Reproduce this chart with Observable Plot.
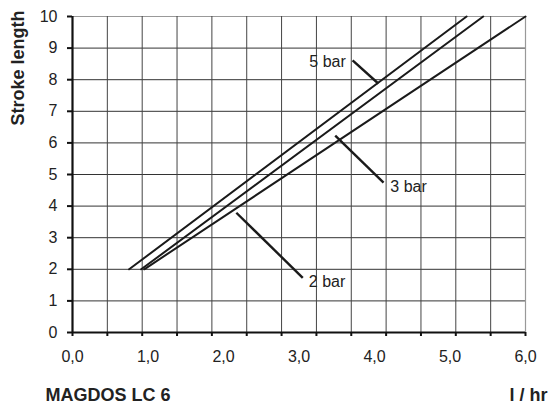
<!DOCTYPE html>
<html><head><meta charset="utf-8">
<script src="https://cdn.jsdelivr.net/npm/d3@7"></script>
<script src="https://cdn.jsdelivr.net/npm/@observablehq/plot@0.6"></script>
<style>
body{margin:0;background:#fff}
#chart{font-family:"Liberation Sans",Arial,Helvetica,sans-serif}
</style>
</head><body><div id="chart"></div>
<script>
// Series: stroke length vs flow (l/hr) for three back-pressures
const seriesNames = ["5 bar", "3 bar", "2 bar"];
const strokeLength = [2, 10];
const flow5bar = [0.75, 5.22];
const flow3bar = [0.91, 5.44];
const flow2bar = [0.95, 6.0];

// Axis ticks
const xTickLabels = [0, 1, 2, 3, 4, 5, 6];
const yTicks = [0, 1, 2, 3, 4, 5, 6, 7, 8, 9, 10];
const xGrid = [0, 0.4615, 0.9231, 1.3846, 1.8462, 2.3077, 2.7692, 3.2308, 3.6923, 4.1538, 4.6154, 5.0769, 5.5385, 6.0];

// Leader annotations (data coordinates)
const leaderFromX = [3.71, 3.48, 2.17];
const leaderFromY = [8.61, 6.23, 3.79];
const leaderToX = [4.05, 4.12, 3.05];
const leaderToY = [7.88, 4.74, 1.73];
const labelX = [3.62, 4.21, 3.13];
const labelY = [8.57, 4.62, 1.61];
const labelAnchor = ["end", "start", "start"];

const flows = [flow5bar, flow3bar, flow2bar];
const lineData = seriesNames.flatMap((name, i) =>
  strokeLength.map((s, j) => ({series: name, flow: flows[i][j], stroke: s})));
const leaders = seriesNames.map((name, i) => ({
  series: name, x1: leaderFromX[i], y1: leaderFromY[i], x2: leaderToX[i], y2: leaderToY[i],
  lx: labelX[i], ly: labelY[i], anchor: labelAnchor[i]
}));

const innerGridY = yTicks.filter(d => d !== 10);
const topGridY = yTicks.filter(d => d === 10);
const innerGridX = xGrid.filter(d => d !== 0 && d !== 6);
const rightGridX = xGrid.filter(d => d === 6);

const chart = Plot.plot({
  width: 550,
  height: 408,
  marginLeft: 72,
  marginRight: 25,
  marginTop: 16,
  marginBottom: 76,
  style: {fontFamily: '"Liberation Sans", Arial, sans-serif', fontSize: "16px", color: "#222", background: "#fff", overflow: "visible"},
  x: {domain: [0, 6], axis: null},
  y: {domain: [0, 10], axis: null},
  marks: [
    Plot.ruleY(innerGridY, {stroke: "#333", strokeWidth: 1}),
    Plot.ruleY(topGridY, {stroke: "#999", strokeWidth: 1.2}),
    Plot.ruleX(innerGridX, {stroke: "#444", strokeWidth: 1}),
    Plot.ruleX(rightGridX, {stroke: "#999", strokeWidth: 1.2}),
    Plot.axisY({ticks: yTicks, tickSize: 5, tickPadding: 10, strokeWidth: 2, stroke: "#111", fontSize: 16, fill: "#222", label: null}),
    Plot.axisX({ticks: xGrid, tickSize: 4, strokeWidth: 2, stroke: "#111", tickFormat: () => "", label: null}),
    Plot.axisX({ticks: xTickLabels, tickSize: 0, tickPadding: 18, fontSize: 16, fill: "#222",
      tickFormat: d => d.toFixed(1).replace(".", ","), label: null}),
    Plot.ruleX([0], {stroke: "#111", strokeWidth: 2.2}),
    Plot.ruleY([0], {stroke: "#111", strokeWidth: 2.2}),
    Plot.line(lineData, {x: "flow", y: "stroke", z: "series", stroke: "#1a1a1a", strokeWidth: 2}),
    Plot.link(leaders, {x1: "x1", y1: "y1", x2: "x2", y2: "y2", stroke: "#1a1a1a", strokeWidth: 2.4}),
    Plot.text(leaders.filter(d => d.anchor === "end"), {x: "lx", y: "ly", text: "series", textAnchor: "end", lineAnchor: "middle", fontSize: 16, fill: "#222"}),
    Plot.text(leaders.filter(d => d.anchor === "start"), {x: "lx", y: "ly", text: "series", textAnchor: "start", lineAnchor: "middle", fontSize: 16, fill: "#222"}),
    Plot.text(["Stroke length"], {frameAnchor: "top-left", rotate: -90, textAnchor: "middle", lineAnchor: "middle",
      dx: -53.8, dy: 51.5, fontSize: 18, fontWeight: "bold", fill: "#222"}),
    Plot.text(["MAGDOS LC 6"], {frameAnchor: "bottom-left", textAnchor: "start", lineAnchor: "middle", dx: -27, dy: 63.2,
      fontSize: 18, fontWeight: "bold", fill: "#222"}),
    Plot.text(["l / hr"], {frameAnchor: "bottom-right", textAnchor: "end", lineAnchor: "middle", dx: 22, dy: 62.8,
      fontSize: 18, fontWeight: "bold", fill: "#222"})
  ]
});
document.getElementById("chart").appendChild(chart);
</script>
</body></html>
